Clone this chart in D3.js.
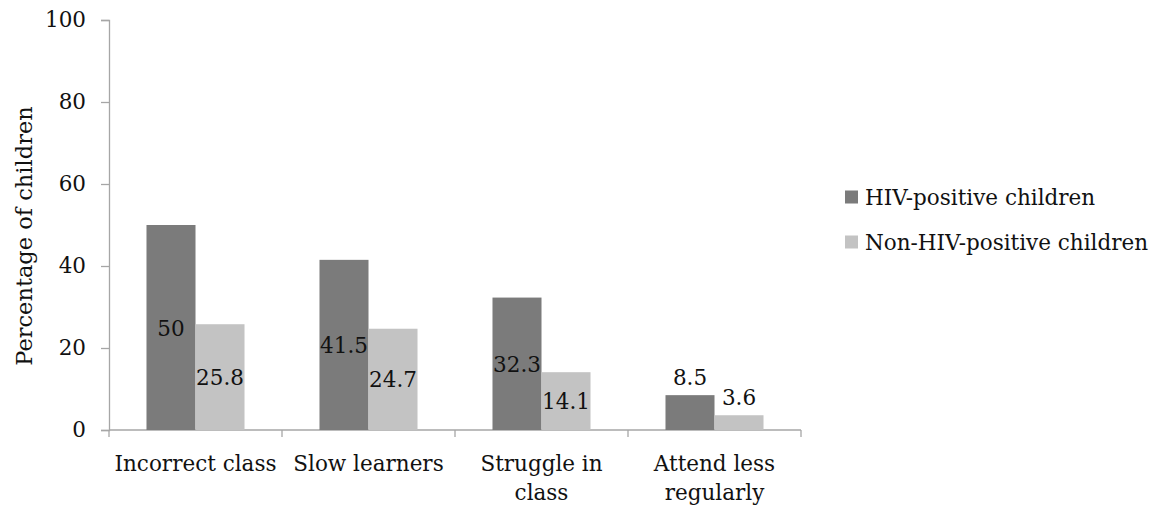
<!DOCTYPE html>
<html>
<head>
<meta charset="utf-8">
<script src="https://cdn.jsdelivr.net/npm/d3@7"></script>
<style>
  html, body { margin: 0; padding: 0; background: #fff; }
</style>
</head>
<body>
<svg id="chart" width="1170" height="510"></svg>
<script>
// Reasons reported, as category labels (line breaks where the label wraps)
const categories = ["Incorrect class", "Slow learners", "Struggle in class", "Attend less regularly"];
const categoryLines = [["Incorrect class"], ["Slow learners"], ["Struggle in", "class"], ["Attend less", "regularly"]];
const seriesNames = ["HIV-positive children", "Non-HIV-positive children"];
const hivPositive = [50, 41.5, 32.3, 8.5];
const nonHivPositive = [25.8, 24.7, 14.1, 3.6];
const yTicks = [0, 20, 40, 60, 80, 100];
const seriesColors = ["#7b7b7b", "#c3c3c3"];

const FONT = '"DejaVu Serif", "Liberation Serif", serif';
const FS = 21.5;

const svg = d3.select("#chart");
const plot = { left: 109, right: 801, top: 20, bottom: 430 };

const x = d3.scaleBand().domain(categories).range([plot.left, plot.right]).paddingInner(0).paddingOuter(0);
const inner = d3.scaleBand().domain(seriesNames)
  .range([0, x.bandwidth()]).paddingInner(0).paddingOuter(0.765);
const y = d3.scaleLinear().domain([0, 100]).range([plot.bottom, plot.top]);

const axisColor = "#a6a6a6";

// Y axis
const yAxis = svg.append("g").attr("transform", `translate(${plot.left},0)`)
  .call(d3.axisLeft(y).tickValues(yTicks).tickSize(8).tickPadding(15));
yAxis.attr("font-family", FONT).attr("font-size", FS);
yAxis.select(".domain").attr("stroke", axisColor).attr("stroke-width", 1.3);
yAxis.selectAll(".tick line").attr("stroke", axisColor).attr("stroke-width", 1.3);
yAxis.selectAll(".tick text").attr("fill", "#111");

// X axis with tick marks at band boundaries
const xAxisG = svg.append("g");
xAxisG.append("line")
  .attr("x1", plot.left).attr("x2", plot.right)
  .attr("y1", plot.bottom).attr("y2", plot.bottom)
  .attr("stroke", axisColor).attr("stroke-width", 1.3);
const boundaries = categories.map(c => x(c)).concat([x(categories[categories.length - 1]) + x.bandwidth()]);
xAxisG.selectAll("line.tick").data(boundaries).join("line")
  .attr("class", "tick")
  .attr("x1", d => d).attr("x2", d => d)
  .attr("y1", plot.bottom).attr("y2", plot.bottom + 7)
  .attr("stroke", axisColor).attr("stroke-width", 1.3);

// Category labels
categories.forEach((c, i) => {
  const t = svg.append("text")
    .attr("x", x(c) + x.bandwidth() / 2)
    .attr("y", 471)
    .attr("text-anchor", "middle")
    .attr("font-family", FONT)
    .attr("font-size", FS)
    .attr("fill", "#111");
  categoryLines[i].forEach((line, j) => {
    t.append("tspan").attr("x", x(c) + x.bandwidth() / 2).attr("dy", j === 0 ? 0 : 29).text(line);
  });
});

// Bars
const rows = categories.map((c, i) => ({ cat: c, vals: [hivPositive[i], nonHivPositive[i]] }));
const groups = svg.selectAll("g.group").data(rows).join("g")
  .attr("class", "group")
  .attr("transform", d => `translate(${x(d.cat)},0)`);

groups.selectAll("rect").data(d => d.vals.map((v, k) => ({ v, k }))).join("rect")
  .attr("x", d => inner(seriesNames[d.k]))
  .attr("width", inner.bandwidth())
  .attr("y", d => y(d.v))
  .attr("height", d => y(0) - y(d.v))
  .attr("fill", d => seriesColors[d.k]);

// Value labels: centred inside tall bars, just above short ones
groups.selectAll("text.value").data(d => d.vals.map((v, k) => ({ v, k }))).join("text")
  .attr("class", "value")
  .attr("x", d => inner(seriesNames[d.k]) + inner.bandwidth() / 2)
  .attr("y", d => {
    const h = y(0) - y(d.v);
    return h > 40 ? (y(d.v) + y(0)) / 2 + 8 : y(d.v) - 10;
  })
  .attr("text-anchor", "middle")
  .attr("font-family", FONT)
  .attr("font-size", FS)
  .attr("fill", "#111")
  .text(d => d.v);

// Y axis title
svg.append("text")
  .attr("transform", `translate(32,236) rotate(-90)`)
  .attr("text-anchor", "middle")
  .attr("font-family", FONT)
  .attr("font-size", 22.5)
  .attr("fill", "#111")
  .text("Percentage of children");

// Legend
const legend = svg.append("g");
seriesNames.forEach((name, k) => {
  const cy = 197 + k * 45;
  legend.append("rect")
    .attr("x", 845).attr("y", cy - 6.5)
    .attr("width", 13).attr("height", 13)
    .attr("fill", seriesColors[k]);
  legend.append("text")
    .attr("x", 865).attr("y", cy + 8)
    .attr("font-family", FONT)
    .attr("font-size", FS)
    .attr("fill", "#111")
    .text(name);
});
</script>
</body>
</html>
